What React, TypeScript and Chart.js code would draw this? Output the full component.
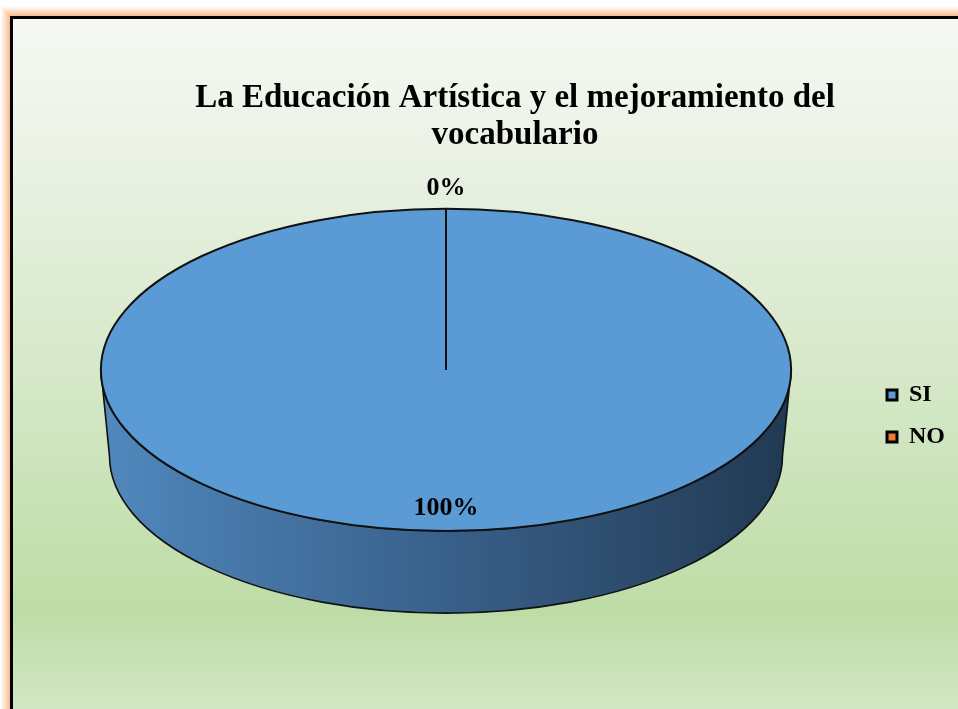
import React, { useEffect, useRef } from 'react';
import { Chart, registerables } from 'chart.js';

Chart.register(...registerables);

// ---------- data ----------
const TITLE_LINES = ['La Educación Artística y el mejoramiento del', 'vocabulario'];
const CATEGORIES = ['SI', 'NO'];
const VALUES = [100, 0];
const SLICE_COLORS = ['#5b9bd5', '#ed7d31'];

// ---------- styling ----------
const FONT = '"Liberation Serif", "Times New Roman", serif';
const CANVAS_W = 958;
const CANVAS_H = 832;
const BG_STOPS: [number, string][] = [
  [0, '#f7f9f4'],
  [0.25, '#e7f0e0'],
  [0.55, '#d3e7c5'],
  [0.86, '#bedca6'],
  [1, '#d3e7c4'],
];
const SIDE_STOPS: [number, string][] = [
  [0, '#5189be'],
  [0.12, '#4a7eb1'],
  [0.5, '#39608a'],
  [0.8, '#2b4968'],
  [1, '#213953'],
];
// pseudo-3D view of the pie (relative to the pie radius computed by Chart.js)
const VIEW = { sx: 1.643, sy: 0.767, depth: 0.41, base: 0.975 };

const frameBackground = {
  id: 'frameBackground',
  beforeDraw(chart: any) {
    const { ctx, width, height } = chart;
    ctx.save();
    ctx.fillStyle = '#ffffff';
    ctx.fillRect(0, 0, width, height);
    // soft orange glow around the frame
    for (let d = 1; d <= 9; d++) {
      ctx.strokeStyle = `rgba(248,165,105,${(0.8 * (1 - d / 10)).toFixed(3)})`;
      ctx.lineWidth = 1;
      ctx.strokeRect(10 - d + 0.5, 16 - d + 0.5, width + 60, height + 60);
    }
    const g = ctx.createLinearGradient(0, 17, 0, 709);
    BG_STOPS.forEach(([t, c]) => g.addColorStop(t, c));
    ctx.fillStyle = g;
    ctx.fillRect(11, 17, width + 40, height + 40);
    ctx.strokeStyle = '#000';
    ctx.lineWidth = 3;
    ctx.strokeRect(11.5, 17.5, width + 40, height + 40);
    ctx.restore();
  },
};

function viewOf(arc: any) {
  const { x, y, outerRadius } = arc.getProps(['x', 'y', 'outerRadius'], true);
  return {
    cx: x,
    cy: y,
    rx: outerRadius * VIEW.sx,
    ry: outerRadius * VIEW.sy,
    depth: outerRadius * VIEW.depth,
  };
}

const pie3d = {
  id: 'pie3d',
  _saved: false,
  beforeDatasetsDraw(chart: any) {
    const arcs = chart.getDatasetMeta(0).data;
    (pie3d as any)._saved = false;
    if (!arcs.length) return;
    const v = viewOf(arcs[0]);
    const { ctx } = chart;
    // side wall
    ctx.save();
    const bx = v.rx * VIEW.base;
    const by = v.ry * VIEW.base;
    const grad = ctx.createLinearGradient(v.cx - v.rx, 0, v.cx + v.rx, 0);
    SIDE_STOPS.forEach(([t, c]) => grad.addColorStop(t, c));
    ctx.beginPath();
    ctx.ellipse(v.cx, v.cy, v.rx, v.ry, 0, 0, Math.PI, false);
    ctx.lineTo(v.cx - bx, v.cy + v.depth);
    ctx.ellipse(v.cx, v.cy + v.depth, bx, by, 0, Math.PI, 0, true);
    ctx.closePath();
    ctx.fillStyle = grad;
    ctx.fill();
    ctx.lineWidth = 1.6;
    ctx.strokeStyle = '#111';
    ctx.lineJoin = 'round';
    ctx.stroke();
    ctx.restore();
    // top face: squash the library's circle into an ellipse
    ctx.save();
    ctx.translate(v.cx, v.cy);
    ctx.scale(VIEW.sx, VIEW.sy);
    ctx.translate(-v.cx, -v.cy);
    (pie3d as any)._saved = true;
  },
  afterDatasetsDraw(chart: any) {
    const { ctx } = chart;
    if (!(pie3d as any)._saved) return;
    ctx.restore();
    const arcs = chart.getDatasetMeta(0).data;
    const v = viewOf(arcs[0]);
    ctx.save();
    ctx.strokeStyle = '#111';
    ctx.lineWidth = 2;
    ctx.beginPath();
    ctx.ellipse(v.cx, v.cy, v.rx, v.ry, 0, 0, Math.PI * 2);
    ctx.stroke();
    arcs.forEach((a: any) => {
      const { startAngle } = a.getProps(['startAngle'], true);
      ctx.beginPath();
      ctx.moveTo(v.cx, v.cy);
      ctx.lineTo(v.cx + Math.cos(startAngle) * v.rx, v.cy + Math.sin(startAngle) * v.ry);
      ctx.stroke();
    });
    // percentage labels
    const data = chart.data.datasets[0].data as number[];
    const total = data.reduce((s, d) => s + d, 0) || 1;
    ctx.fillStyle = '#000';
    ctx.font = `bold 26px ${FONT}`;
    ctx.textAlign = 'center';
    ctx.textBaseline = 'middle';
    arcs.forEach((a: any, i: number) => {
      const { startAngle, endAngle, circumference } = a.getProps(
        ['startAngle', 'endAngle', 'circumference'],
        true
      );
      const mid = (startAngle + endAngle) / 2;
      const k = circumference > 0.5 ? 0.86 : 1.13;
      const pct = Math.round((data[i] / total) * 100);
      ctx.fillText(`${pct}%`, v.cx + Math.cos(mid) * v.rx * k, v.cy + Math.sin(mid) * v.ry * k);
    });
    ctx.restore();
  },
};

const hiddenScale = {
  display: true,
  grid: { display: false },
  border: { display: false },
  ticks: { display: false },
  title: { display: false },
};

export default function App() {
  const ref = useRef<HTMLCanvasElement>(null);
  useEffect(() => {
    if (!ref.current) return;
    const baseLabels = (Chart.overrides as any).doughnut.plugins.legend.labels.generateLabels;
    const chart = new Chart(ref.current, {
      type: 'pie',
      data: {
        labels: CATEGORIES,
        datasets: [
          {
            data: VALUES,
            backgroundColor: SLICE_COLORS,
            borderWidth: 0,
            hoverOffset: 0,
            offset: 0,
          },
        ],
      },
      options: {
        responsive: false,
        animation: false,
        devicePixelRatio: 1,
        events: [],
        layout: { padding: { left: 75, right: 3, top: 0, bottom: 0 } },
        scales: {
          padRight: {
            ...hiddenScale,
            type: 'linear',
            axis: 'y',
            position: 'right',
            afterFit: (s: any) => {
              s.width = 52;
            },
          },
          padBottom: {
            ...hiddenScale,
            type: 'linear',
            axis: 'x',
            position: 'bottom',
            afterFit: (s: any) => {
              s.height = 252;
            },
          },
        } as any,
        plugins: {
          tooltip: { enabled: false },
          title: {
            display: true,
            text: TITLE_LINES,
            color: '#000',
            font: { family: FONT, size: 33, weight: 'bold', lineHeight: 1.15 },
            padding: { top: 79, bottom: 5 },
          },
          legend: {
            position: 'right',
            labels: {
              boxWidth: 10,
              boxHeight: 10,
              padding: 18,
              color: '#000',
              font: { family: FONT, size: 24, weight: 'bold' },
              generateLabels: (c: any) =>
                baseLabels(c).map((it: any) => ({ ...it, strokeStyle: '#000', lineWidth: 3 })),
            },
          },
        },
      },
      plugins: [frameBackground, pie3d],
    } as any);
    return () => chart.destroy();
  }, []);

  return (
    <div
      style={{
        position: 'fixed',
        left: 0,
        top: 0,
        width: CANVAS_W,
        height: 709,
        overflow: 'hidden',
        background: '#fff',
      }}
    >
      <canvas
        ref={ref}
        width={CANVAS_W}
        height={CANVAS_H}
        style={{ display: 'block', width: CANVAS_W, height: CANVAS_H }}
      />
    </div>
  );
}
